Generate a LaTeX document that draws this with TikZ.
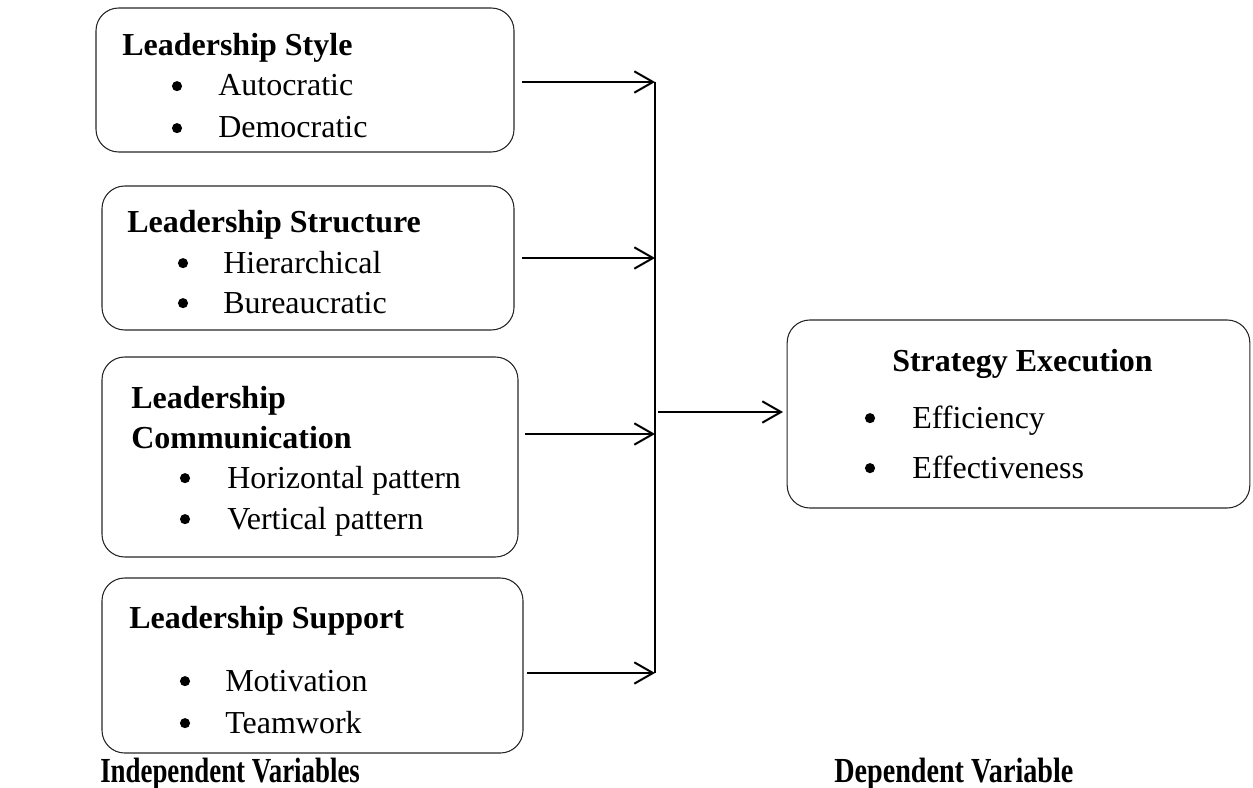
\documentclass[tikz,border=0pt]{standalone}
\usepackage{fontspec}
\setmainfont{Liberation Serif}
\usetikzlibrary{arrows.meta}
\tikzset{
  ibox/.style={draw=black!85, line width=0.8pt, rounded corners=17pt, inner sep=0pt},
  txt/.style={anchor=base west, inner sep=0pt, font=\fontsize{24}{29}\selectfont},
  ttl/.style={anchor=base west, inner sep=0pt, font=\fontsize{24}{29}\selectfont\bfseries},
  bul/.style={circle, fill=black, inner sep=0pt, minimum size=7.6pt, yshift=7.4pt},
  lbl/.style={anchor=base west, inner sep=0pt, font=\fontsize{24}{29}\selectfont\bfseries},
  arr/.style={line width=1.5pt, -{Straight Barb[length=14pt,width=16pt,line width=1.5pt]}},
  trunk/.style={line width=1.1pt}
}
\begin{document}
\begin{tikzpicture}[x=0.75pt,y=-0.75pt]
\useasboundingbox (0,0) rectangle (1253,788);
% boxes
\node[ibox, minimum width=313.5pt, minimum height=108pt] (b1) at (305,80) {};
\node[ibox, minimum width=309pt, minimum height=108pt] (b2) at (308,258) {};
\node[ibox, minimum width=312pt, minimum height=150pt] (b3) at (310,457) {};
\node[ibox, minimum width=315.75pt, minimum height=131.25pt] (b4) at (312.5,665.5) {};
\node[ibox, minimum width=347pt, minimum height=141pt] (r) at (1018.5,414) {};
% box 1
\node[ttl] (t1) at (122,56) {Leadership Style};
\node[bul] (t1b1) at (177,96) {};
\node[txt] (t1i1) at (218,96) {Autocratic};
\node[bul] (t1b2) at (177,138) {};
\node[txt] (t1i2) at (218,138) {Democratic};
% box 2
\node[ttl] (t2) at (127,233) {Leadership Structure};
\node[bul] (t2b1) at (183,273) {};
\node[txt] (t2i1) at (223,273) {Hierarchical};
\node[bul] (t2b2) at (183,313) {};
\node[txt] (t2i2) at (223,313) {Bureaucratic};
% box 3
\node[ttl] (t3) at (131,408) {Leadership};
\node[ttl] (t3x) at (131,448) {Communication};
\node[bul] (t3b1) at (185,488) {};
\node[txt] (t3i1) at (227,488) {Horizontal pattern};
\node[bul] (t3b2) at (185,529) {};
\node[txt] (t3i2) at (227,529) {Vertical pattern};
% box 4
\node[ttl] (t4) at (129,628) {Leadership Support};
\node[bul] (t4b1) at (185,691) {};
\node[txt] (t4i1) at (225,691) {Motivation};
\node[bul] (t4b2) at (185,733) {};
\node[txt] (t4i2) at (225,733) {Teamwork};
% right box
\node[ttl] (tr) at (892,371) {Strategy Execution};
\node[bul] (trb1) at (870,428) {};
\node[txt] (tri1) at (912,428) {Efficiency};
\node[bul] (trb2) at (870,478) {};
\node[txt] (tri2) at (912,478) {Effectiveness};
% bottom labels
\node[lbl] (li) at (100,782) {\scalebox{0.84}[1.1]{Independent Variables}};
\node[lbl] (ld) at (834,782) {\scalebox{0.88}[1.1]{Dependent Variable}};
% connector points
\coordinate (s1) at (522,82);  \coordinate (j1) at (655,82);
\coordinate (s2) at (522,258); \coordinate (j2) at (655,258);
\coordinate (s3) at (525,434); \coordinate (j3) at (655,434);
\coordinate (s4) at (527,673); \coordinate (j4) at (655,673);
\coordinate (m) at (658,412);  \coordinate (e) at (783,412);
\draw[trunk] (j1) -- (j4);
\draw[arr] (s1) -- (j1);
\draw[arr] (s2) -- (j2);
\draw[arr] (s3) -- (j3);
\draw[arr] (s4) -- (j4);
\draw[arr] (m) -- (e);
\end{tikzpicture}
\end{document}
